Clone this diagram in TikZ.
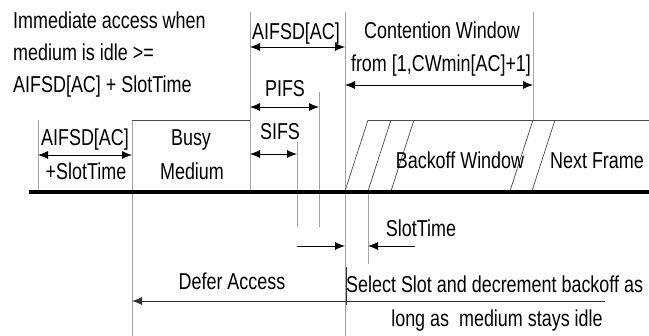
\documentclass[tikz,border=0pt]{standalone}
\usepackage{fontspec}
\setmainfont[FakeStretch=0.78]{Liberation Sans}
\usetikzlibrary{arrows.meta}

\begin{document}
\begin{tikzpicture}[x=1pt,y=-1pt,
    mark line/.style={gray!70,line width=0.9pt},
    box line/.style={black!70,line width=0.7pt},
    dur/.style={{Latex[length=10pt,width=8pt]}-{Latex[length=10pt,width=8pt]},line width=0.8pt},
    lbl/.style={inner sep=0pt,font=\fontsize{23}{27}\selectfont}]
  \useasboundingbox (0,0) rectangle (649,336);
  % time marks
  \draw[mark line] (38,120) -- (38,191);          % start of AIFSD+SlotTime
  \draw[mark line] (132,120) -- (132,336);        % end of busy medium
  \draw[mark line] (250,12) -- (250,191);         % start of IFS
  \draw[mark line] (297,142) -- (297,227);        % end of SIFS
  \draw[mark line] (319,92) -- (319,227);         % end of PIFS
  \draw[mark line] (345,12) -- (345,336);         % end of AIFSD[AC]
  \draw[mark line] (368,191) -- (368,264);        % one slot later
  \draw[mark line] (533,12) -- (533,120);         % end of contention window
  \draw[black!80,line width=0.9pt] (346,267) -- (346,305);
  % busy medium and backoff boxes
  \draw[box line] (132,120) -- (250,120);
  \draw[box line] (368,120) -- (649,120);
  \foreach \x in {368,391,414,533,555} \draw[box line] (\x,120) -- (\x-23,191);
  \draw[line width=4pt] (29,192) -- (649,192);    % the medium
  % durations
  \draw[dur] (250,47) -- (345,47);
  \draw[dur] (345,85) -- (533,85);
  \draw[dur] (250,107) -- (319,107);
  \draw[dur] (250,154) -- (297,154);
  \draw[dur] (38,155) -- (132,155);
  \draw[-{Latex[length=10pt,width=8pt]},line width=0.8pt] (297,246) -- (345,246);
  \draw[-{Latex[length=10pt,width=8pt]},line width=0.8pt] (415,246) -- (368,246);
  \draw[-{Latex[length=10pt,width=8pt]},black!80,line width=0.8pt] (605,301) -- (132,301);
  % labels
  \node[lbl,anchor=base west] (imm1) at (13,29) {Immediate access when};
  \node[lbl,anchor=base west] (imm2) at (13,61) {medium is idle >=};
  \node[lbl,anchor=base west] (imm3) at (13,93) {AIFSD[AC] + SlotTime};
  \node[lbl,anchor=base] (aifs) at (296,40) {AIFSD[AC]};
  \node[lbl,anchor=base] (cw1) at (442,39) {Contention Window};
  \node[lbl,anchor=base] (cw2) at (441,72) {from [1,CWmin[AC]+1]};
  \node[lbl,anchor=base] (pifs) at (285,97) {PIFS};
  \node[lbl,anchor=base] (sifs) at (280,140) {SIFS};
  \node[lbl,anchor=base] (aifsl1) at (85,146) {AIFSD[AC]};
  \node[lbl,anchor=base] (aifsl2) at (86,180) {+SlotTime};
  \node[lbl,anchor=base] (busy1) at (191,146) {Busy};
  \node[lbl,anchor=base] (busy2) at (192,180) {Medium};
  \node[lbl,anchor=base] (bow) at (460,169) {Backoff Window};
  \node[lbl,anchor=base] (next) at (597,169) {Next Frame};
  \node[lbl,anchor=base] (slot) at (421,237) {SlotTime};
  \node[lbl,anchor=base] (defer) at (232,290) {Defer Access};
  \node[lbl,anchor=base west] (sel1) at (346,293) {Select Slot and decrement backoff as};
  \node[lbl,anchor=base] (sel2) at (497,327) {long as\ \ medium stays idle};
\end{tikzpicture}
\end{document}
